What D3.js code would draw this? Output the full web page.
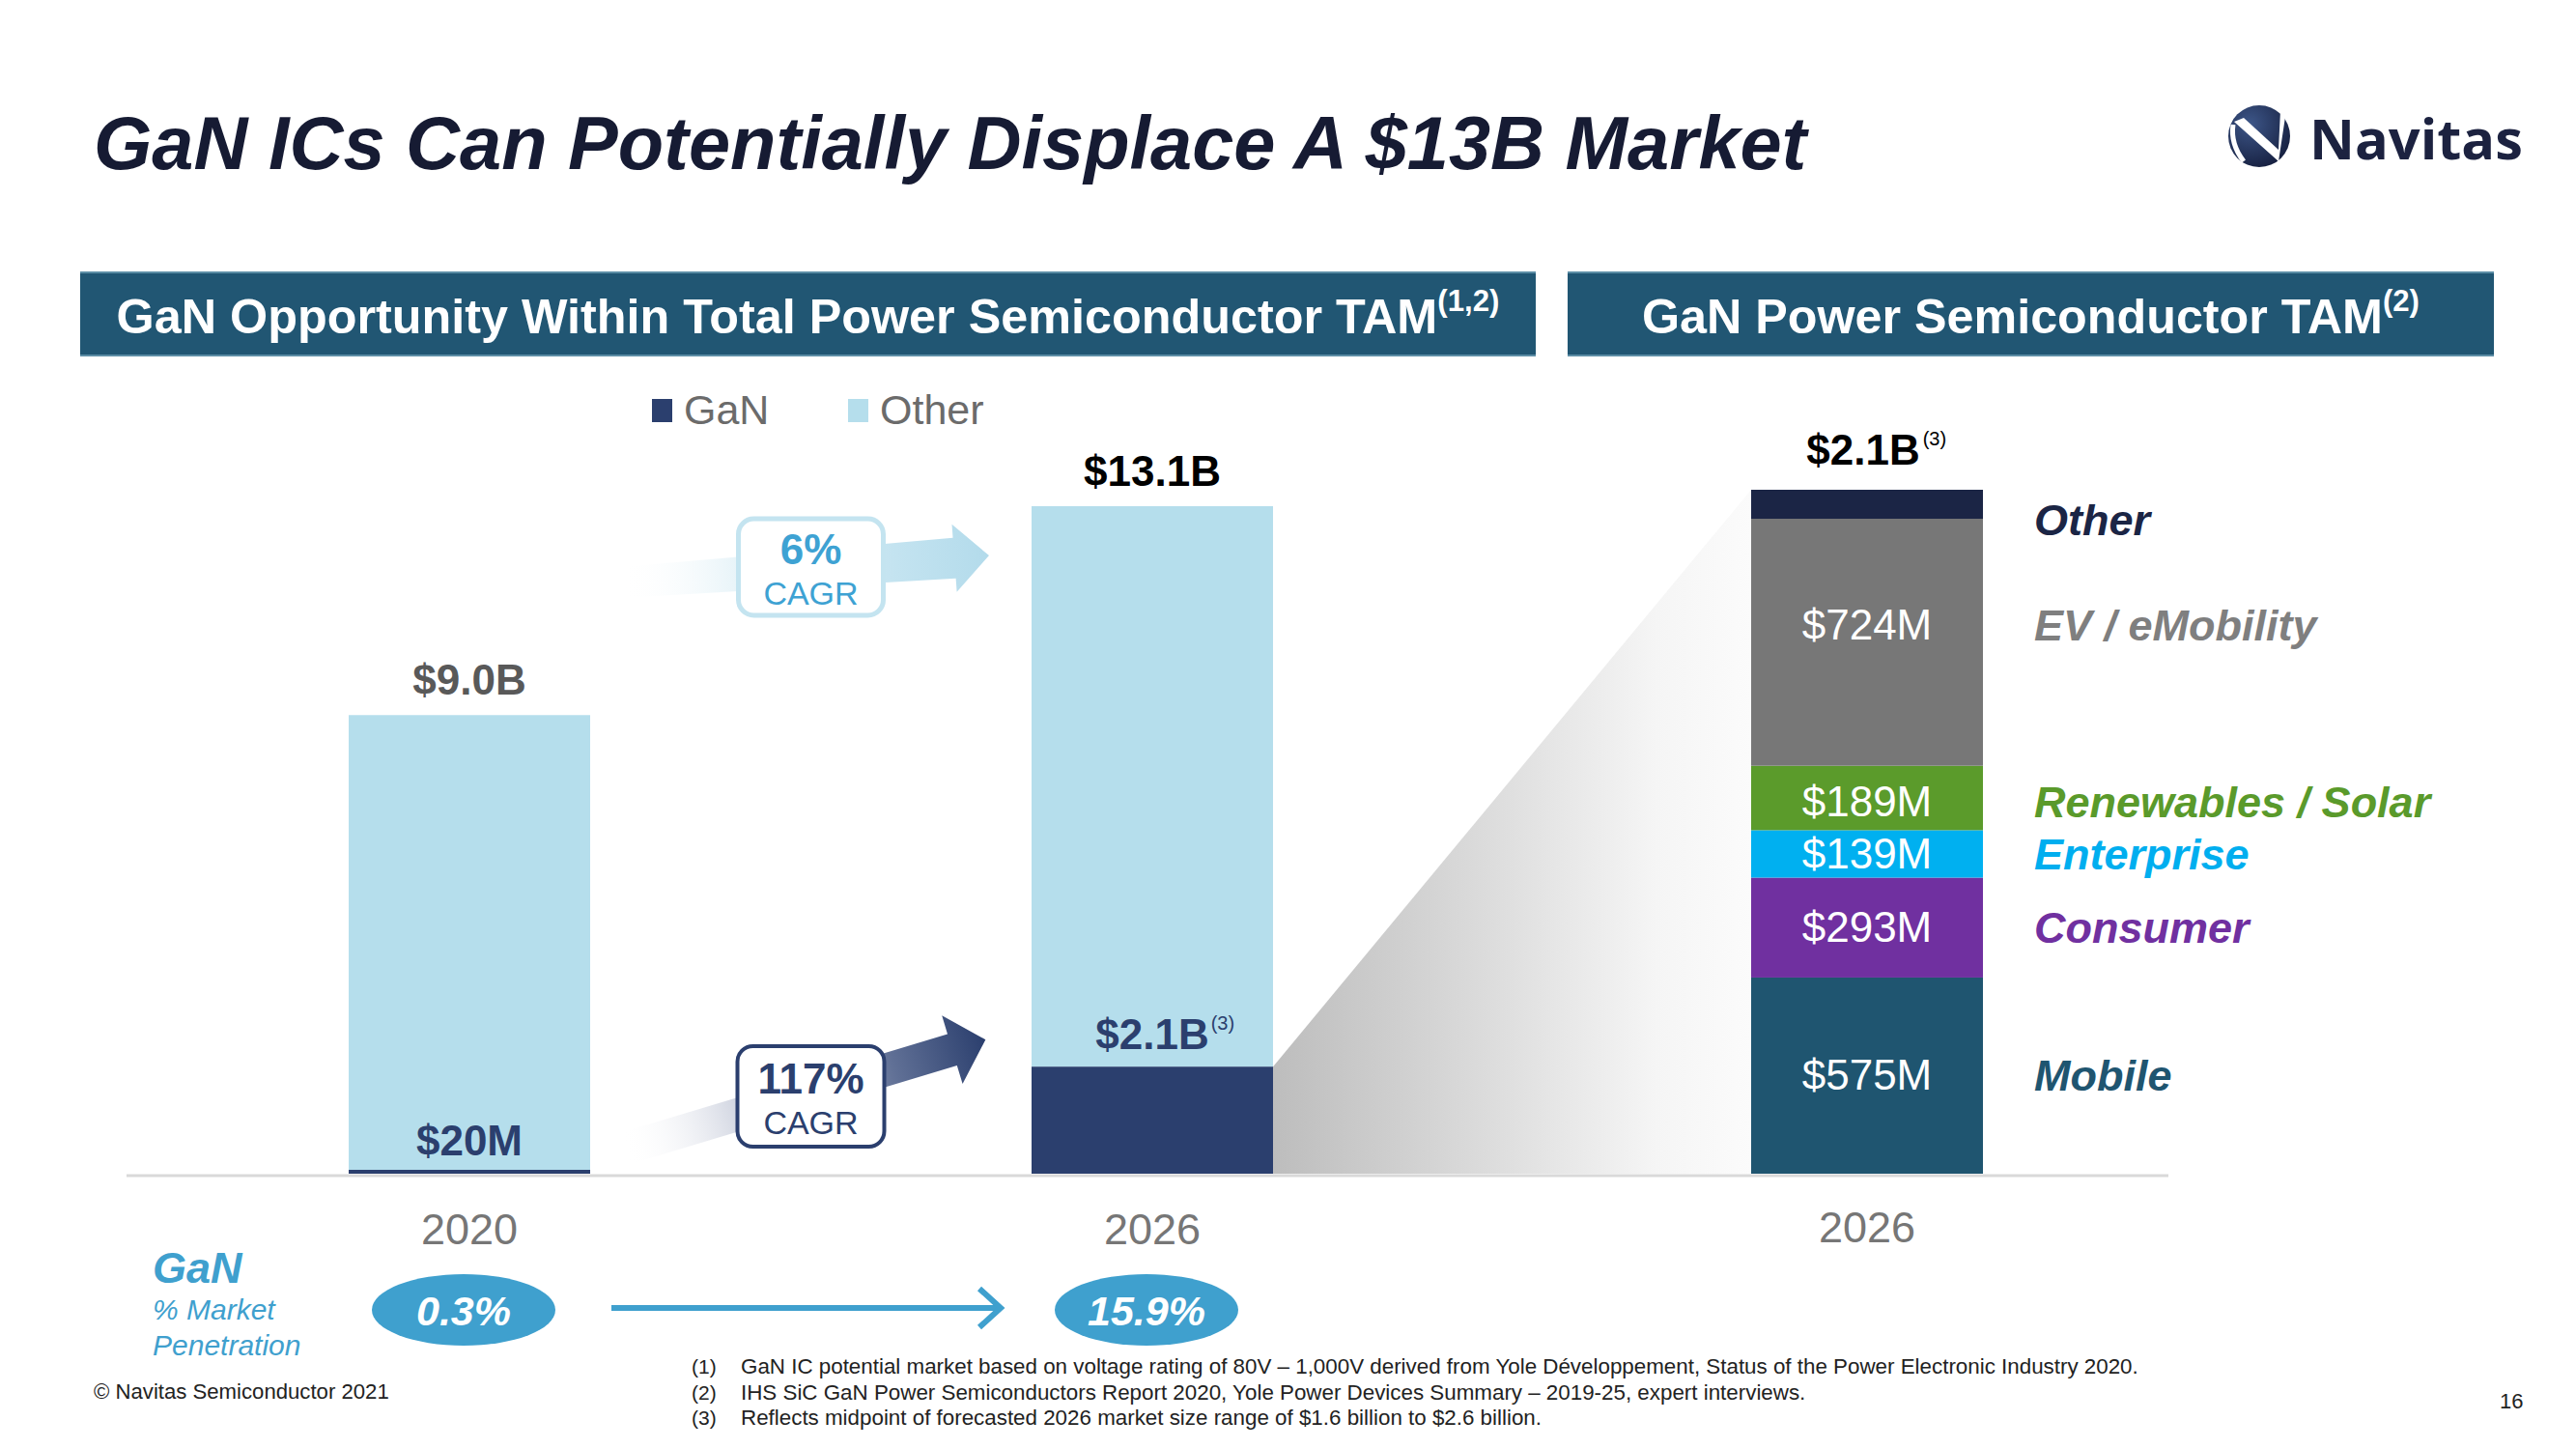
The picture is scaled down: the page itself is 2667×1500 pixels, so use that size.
<!DOCTYPE html>
<html><head><meta charset="utf-8">
<script src="https://cdn.jsdelivr.net/npm/d3@7"></script>
<style>html,body{margin:0;padding:0;background:#fff;}svg{display:block;}</style>
</head><body>
<script>
// ---------- DATA ----------
const years = ["2020", "2026"];
const ganValues = [0.02, 2.1];          // $B
const otherValues = [8.98, 11.0];       // $B
const totalLabels = ["$9.0B", "$13.1B"];
const ganLabels = ["$20M", "$2.1B"];
const ganLabelSup = ["", "(3)"];
const penetration = ["0.3%", "15.9%"];
const cagrValues = ["6%", "117%"];

const segYear = ["2026"];
const segments = ["Mobile", "Consumer", "Enterprise", "Renewables / Solar", "EV / eMobility", "Other"];
const segmentValues = [575, 293, 139, 189, 724, 85];   // $M
const segmentLabels = ["$575M", "$293M", "$139M", "$189M", "$724M", ""];
const segTotalLabel = "$2.1B";

const footnotes = [
  "GaN IC potential market based on voltage rating of 80V \u2013 1,000V derived from Yole D\u00e9veloppement, Status of the Power Electronic Industry 2020.",
  "IHS SiC GaN Power Semiconductors Report 2020, Yole Power Devices Summary \u2013 2019-25, expert interviews.",
  "Reflects midpoint of forecasted 2026 market size range of $1.6 billion to $2.6 billion."
];

// ---------- STYLE ----------
const C = {
  title: "#161b33", header: "#215673", gan: "#2b3f6e", other: "#b5deec",
  axis: "#d9d9d9", grey: "#6e6e6e", blue: "#3fa0ce"
};
const segColors = ["#1f5570", "#7030a0", "#00b0f0", "#5b9b2b", "#777777", "#1b2545"];
const segTextColors = ["#1f5570", "#7030a0", "#00aeef", "#5a9a2b", "#7f7f7f", "#1b2545"];
const segLabelShift = [0, 0, 0, 4, -18, 16];   // vertical nudge of the labels (px)
const totalColors = ["#595959", "#000000"];
const FONT = "'Liberation Sans', Arial, Helvetica, sans-serif";

const W = 2667, H = 1500;
const svg = d3.select("body").append("svg").attr("width", W).attr("height", H)
  .attr("font-family", FONT);
svg.append("rect").attr("width", W).attr("height", H).attr("fill", "#fff");
const defs = svg.append("defs");

function fit(sel, w) {
  const L = sel.node().getComputedTextLength();
  const fs = parseFloat(sel.attr("font-size"));
  sel.attr("font-size", fs * w / L);
  return sel;
}

// ---------- TITLE & LOGO ----------
fit(svg.append("text").attr("x", 97).attr("y", 175).attr("font-size", 80)
  .attr("font-weight", "bold").attr("font-style", "italic").attr("fill", C.title)
  .text("GaN ICs Can Potentially Displace A $13B Market"), 1774);

const logo = svg.append("g").attr("transform", "translate(2339,141)");
const lg = defs.append("radialGradient").attr("id", "logoGrad").attr("cx", "0.35").attr("cy", "0.3").attr("r", "0.8");
lg.append("stop").attr("offset", 0).attr("stop-color", "#3d5688");
lg.append("stop").attr("offset", 1).attr("stop-color", "#141d3c");
logo.append("circle").attr("r", 32).attr("fill", "url(#logoGrad)");
logo.append("path").attr("d", "M-27,-12 Q-30,8 -16,26").attr("stroke", "#fff").attr("stroke-width", 5).attr("fill", "none");
logo.append("path").attr("d", "M-26,-15 L-16,-19 L20,14 L22,-27 L27,-20 L20,26 Z").attr("fill", "#fff");
fit(svg.append("text").attr("x", 2391).attr("y", 165).attr("font-size", 64)
  .attr("font-family", "'Open Sans', sans-serif").attr("font-weight", "bold").attr("fill", "#1c2240")
  .text("Navitas"), 221);

// ---------- HEADER BARS ----------
function header(x0, x1, main, sup) {
  svg.append("rect").attr("x", x0).attr("y", 281).attr("width", x1 - x0).attr("height", 88).attr("fill", C.header);
  svg.append("line").attr("x1", x0).attr("x2", x1).attr("y1", 282).attr("y2", 282).attr("stroke", "#5d8ea6").attr("stroke-width", 2);
  svg.append("line").attr("x1", x0).attr("x2", x1).attr("y1", 368).attr("y2", 368).attr("stroke", "#5d8ea6").attr("stroke-width", 2);
  const t = svg.append("text").attr("x", (x0 + x1) / 2).attr("y", 345).attr("text-anchor", "middle")
    .attr("font-size", 50).attr("font-weight", "bold").attr("fill", "#fff");
  t.append("tspan").text(main);
  t.append("tspan").attr("font-size", "0.62em").attr("dy", "-0.75em").text(sup);
  return t;
}
fit(header(83, 1590, "GaN Opportunity Within Total Power Semiconductor TAM", "(1,2)"), 1432);
fit(header(1623, 2582, "GaN Power Semiconductor TAM", "(2)"), 805);

// ---------- LEGEND ----------
const legend = [["GaN", C.gan, 675], ["Other", C.other, 878]];
legend.forEach(([name, col, x]) => {
  svg.append("rect").attr("x", x).attr("y", 413).attr("width", 21).attr("height", 24).attr("fill", col);
  svg.append("text").attr("x", x + 33).attr("y", 439).attr("font-size", 43).attr("fill", "#6b6b6b").text(name);
});

// ---------- SCALES ----------
const xLeft = d3.scaleBand().domain(years).range([361, 1318]).paddingInner(0.6464);
const yLeft = d3.scaleLinear().domain([0, 13.1]).range([1215, 524]);
const xRight = d3.scaleBand().domain(segYear).range([1813, 2053]);
const yRight = d3.scaleLinear().domain([0, d3.sum(segmentValues)]).range([1215, 507]);

// funnel (connect GaN 2026 bar to right breakdown bar)
const fg = defs.append("linearGradient").attr("id", "funnelGrad").attr("x1", 0).attr("x2", 1).attr("y1", 0).attr("y2", 0);
fg.append("stop").attr("offset", 0).attr("stop-color", "#bdbdbd");
fg.append("stop").attr("offset", 0.45).attr("stop-color", "#dcdcdc");
fg.append("stop").attr("offset", 0.8).attr("stop-color", "#f5f5f5");
fg.append("stop").attr("offset", 1).attr("stop-color", "#fbfbfb");
const fx0 = xLeft("2026") + xLeft.bandwidth(), fx1 = xRight("2026");
svg.append("path").attr("fill", "url(#funnelGrad)")
  .attr("d", d3.line()([[fx0, yLeft(ganValues[1])], [fx1, yRight(d3.sum(segmentValues))], [fx1, yRight(0)], [fx0, yLeft(0)]]) + "Z");

// axis line
svg.append("line").attr("x1", 131).attr("x2", 2245).attr("y1", 1217).attr("y2", 1217)
  .attr("stroke", C.axis).attr("stroke-width", 3);

// stacked bars
const rows = years.map((y, i) => ({ year: y, GaN: ganValues[i], Other: otherValues[i] }));
const stack = d3.stack().keys(["GaN", "Other"])(rows);
const layerColor = { GaN: C.gan, Other: C.other };
[stack[1], stack[0]].forEach(layer => {
  svg.append("g").selectAll("rect").data(layer).join("rect")
    .attr("x", d => xLeft(d.data.year)).attr("width", xLeft.bandwidth())
    .attr("y", d => Math.min(yLeft(d[1]), yLeft(d[0]) - 4))
    .attr("height", d => Math.max(4, yLeft(d[0]) - yLeft(d[1])))
    .attr("fill", layerColor[layer.key]);
});

// labels left
years.forEach((y, i) => {
  const cx = xLeft(y) + xLeft.bandwidth() / 2;
  svg.append("text").attr("x", cx).attr("y", yLeft(ganValues[i] + otherValues[i]) - 21)
    .attr("text-anchor", "middle").attr("font-size", 44).attr("font-weight", "bold")
    .attr("fill", totalColors[i]).text(totalLabels[i]);
  const t = svg.append("text").attr("x", cx).attr("y", yLeft(ganValues[i]) - 18)
    .attr("text-anchor", "middle").attr("font-size", 44).attr("font-weight", "bold")
    .attr("fill", C.gan).text(ganLabels[i]);
  if (ganLabelSup[i]) {
    const w = t.node().getComputedTextLength();
    svg.append("text").attr("x", cx + w / 2 + 2).attr("y", yLeft(ganValues[i]) - 38)
      .attr("font-size", 20).attr("fill", C.gan).text(ganLabelSup[i]);
  }
  svg.append("text").attr("x", cx).attr("y", 1288).attr("text-anchor", "middle")
    .attr("font-size", 45).attr("fill", "#767676").text(y);
});

// ---------- CAGR ARROWS ----------
function arrow(id, x0, y0, len, ang, h0, h1, headH, headL, stops) {
  const g = defs.append("linearGradient").attr("id", id).attr("x1", 0).attr("x2", 1).attr("y1", 0).attr("y2", 0);
  stops.forEach(s => g.append("stop").attr("offset", s[0]).attr("stop-color", s[1]).attr("stop-opacity", s[2] == null ? 1 : s[2]));
  svg.append("path").attr("fill", `url(#${id})`)
    .attr("transform", `translate(${x0},${y0}) rotate(${ang})`)
    .attr("d", `M0,${-h0} L${len},${-h1} L${len},${-headH} L${len + headL},0 L${len},${headH} L${len},${h1} L0,${h0} Z`);
}
arrow("arrBlue", 644, 603, 345, -4.2, 16, 21, 35, 36,
  [[0, "#ffffff", 0], [0.35, "#e2f1f7"], [0.75, "#c3e3f0"], [1, "#b3dbeb"]]);
arrow("arrNavy", 647, 1189, 354, -16.8, 17, 17, 37, 36,
  [[0, "#ffffff", 0], [0.35, "#c8cddb"], [0.75, "#5f6f95"], [1, "#2b3f6e"]]);

function cagrBox(cx, cy, w, h, stroke, sw, txtColor, big) {
  svg.append("rect").attr("x", cx - w / 2).attr("y", cy - h / 2).attr("width", w).attr("height", h)
    .attr("rx", 16).attr("fill", "#fff").attr("stroke", stroke).attr("stroke-width", sw);
  svg.append("text").attr("x", cx).attr("y", cy - 3).attr("text-anchor", "middle")
    .attr("font-size", 44).attr("font-weight", "bold").attr("fill", txtColor).text(big);
  svg.append("text").attr("x", cx).attr("y", cy + 39).attr("text-anchor", "middle")
    .attr("font-size", 34).attr("fill", txtColor).text("CAGR");
}
const midX = (xLeft("2020") + xLeft.bandwidth() + xLeft("2026")) / 2;
cagrBox(midX, 587, 150, 100, "#c4e4f0", 5, "#3ea2d3", cagrValues[0]);
cagrBox(midX, 1135, 152, 104, C.gan, 4, C.gan, cagrValues[1]);

// ---------- RIGHT BREAKDOWN BAR ----------
const segRows = [Object.fromEntries(segments.map((s, i) => [s, segmentValues[i]]))];
const segStack = d3.stack().keys(segments)(segRows);
const bx = xRight("2026"), bw = xRight.bandwidth();
svg.append("g").selectAll("rect").data(segStack).join("rect")
  .attr("x", bx).attr("width", bw)
  .attr("y", d => yRight(d[0][1])).attr("height", d => yRight(d[0][0]) - yRight(d[0][1]))
  .attr("fill", (d, i) => segColors[i]);
segStack.forEach((d, i) => {
  const cy = (yRight(d[0][0]) + yRight(d[0][1])) / 2 + segLabelShift[i];
  if (segmentLabels[i]) {
    svg.append("text").attr("x", bx + bw / 2).attr("y", cy + 15).attr("text-anchor", "middle")
      .attr("font-size", 44).attr("fill", "#fff").text(segmentLabels[i]);
  }
  svg.append("text").attr("x", 2106).attr("y", cy + 16).attr("font-size", 45)
    .attr("font-weight", "bold").attr("font-style", "italic").attr("fill", segTextColors[i]).text(segments[i]);
});
const rt = svg.append("text").attr("x", bx + bw / 2 - 4).attr("y", yRight(d3.sum(segmentValues)) - 26)
  .attr("text-anchor", "middle").attr("font-size", 44).attr("font-weight", "bold").attr("fill", "#000").text(segTotalLabel);
svg.append("text").attr("x", bx + bw / 2 - 4 + rt.node().getComputedTextLength() / 2 + 3)
  .attr("y", yRight(d3.sum(segmentValues)) - 46).attr("font-size", 20).attr("fill", "#000").text("(3)");
svg.append("text").attr("x", bx + bw / 2).attr("y", 1286).attr("text-anchor", "middle")
  .attr("font-size", 45).attr("fill", "#767676").text(segYear[0]);

// ---------- PENETRATION ----------
svg.append("text").attr("x", 158).attr("y", 1328).attr("font-size", 45).attr("font-weight", "bold")
  .attr("font-style", "italic").attr("fill", C.blue).text("GaN");
svg.append("text").attr("x", 158).attr("y", 1366).attr("font-size", 30).attr("font-style", "italic")
  .attr("fill", C.blue).text("% Market");
svg.append("text").attr("x", 158).attr("y", 1403).attr("font-size", 30).attr("font-style", "italic")
  .attr("fill", C.blue).text("Penetration");
years.forEach((y, i) => {
  const cx = xLeft(y) + xLeft.bandwidth() / 2 - 6;
  svg.append("ellipse").attr("cx", cx).attr("cy", 1356).attr("rx", 95).attr("ry", 37).attr("fill", C.blue);
  svg.append("text").attr("x", cx).attr("y", 1372).attr("text-anchor", "middle").attr("font-size", 43)
    .attr("font-weight", "bold").attr("font-style", "italic").attr("fill", "#fff").text(penetration[i]);
});
svg.append("line").attr("x1", 633).attr("x2", 1034).attr("y1", 1354).attr("y2", 1354)
  .attr("stroke", C.blue).attr("stroke-width", 6);
svg.append("path").attr("d", "M1014,1334 L1036,1354 L1014,1374").attr("fill", "none")
  .attr("stroke", C.blue).attr("stroke-width", 6);

// ---------- FOOTER ----------
fit(svg.append("text").attr("x", 97).attr("y", 1448).attr("font-size", 22).attr("fill", "#222")
  .text("\u00a9 Navitas Semiconductor 2021"), 306);
let fnSize = 22;
footnotes.forEach((f, i) => {
  const yb = 1422 + i * 26.5;
  svg.append("text").attr("x", 716).attr("y", yb).attr("font-size", 21).attr("fill", "#222").text(`(${i + 1})`);
  const t = svg.append("text").attr("x", 767).attr("y", yb).attr("font-size", fnSize).attr("fill", "#222").text(f);
  if (i === 0) { fit(t, 1448); fnSize = parseFloat(t.attr("font-size")); }
});
svg.append("text").attr("x", 2588).attr("y", 1458).attr("font-size", 22).attr("fill", "#222").text("16");
</script>
</body></html>
